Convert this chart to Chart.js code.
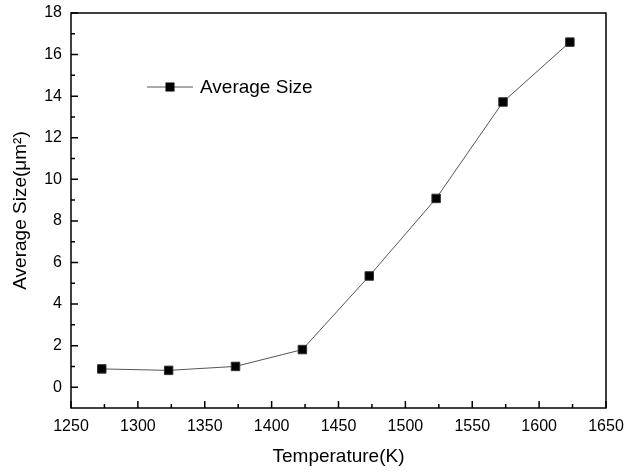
<!DOCTYPE html>
<html>
<head>
<meta charset="utf-8">
<script src="https://cdn.jsdelivr.net/npm/chart.js@4/dist/chart.umd.min.js"></script>
<style>
    html, body { margin: 0; padding: 0; background: #fff; }
    #wrap { width: 627px; height: 472px; }
</style>
</head>
<body>
<div id="wrap"><canvas id="sizeChart"></canvas></div>
<script>
// Data
const temperatures = [1273, 1323, 1373, 1423, 1473, 1523, 1573, 1623];
const averageSize = [0.88, 0.81, 1.0, 1.81, 5.35, 9.08, 13.72, 16.6];
const xTicks = [1250, 1300, 1350, 1400, 1450, 1500, 1550, 1600, 1650];
const yTicks = [0, 2, 4, 6, 8, 10, 12, 14, 16, 18];
const xMinorTicks = [1275, 1325, 1375, 1425, 1475, 1525, 1575, 1625];
const yMinorTicks = [1, 3, 5, 7, 9, 11, 13, 15, 17];

const FONT = '"Liberation Sans", Arial, sans-serif';

// frame, inward ticks and the legend box inside the plot
const framePlugin = {
    id: 'frame',
    afterDraw(chart) {
        const ctx = chart.ctx;
        const a = chart.chartArea;
        const xs = chart.scales.x;
        const ys = chart.scales.y;
        ctx.save();
        ctx.strokeStyle = '#000';
        ctx.lineWidth = 1.5;
        ctx.strokeRect(a.left, a.top, a.right - a.left, a.bottom - a.top);

        ctx.beginPath();
        xTicks.forEach(v => {
            const px = xs.getPixelForValue(v);
            ctx.moveTo(px, a.bottom);
            ctx.lineTo(px, a.bottom - 7);
        });
        xMinorTicks.forEach(v => {
            const px = xs.getPixelForValue(v);
            ctx.moveTo(px, a.bottom);
            ctx.lineTo(px, a.bottom - 4);
        });
        yTicks.forEach(v => {
            const py = ys.getPixelForValue(v);
            ctx.moveTo(a.left, py);
            ctx.lineTo(a.left + 7, py);
        });
        yMinorTicks.forEach(v => {
            const py = ys.getPixelForValue(v);
            ctx.moveTo(a.left, py);
            ctx.lineTo(a.left + 4, py);
        });
        ctx.stroke();

        // legend
        const ds = chart.data.datasets[0];
        const lx = 147, ly = 87;
        ctx.strokeStyle = ds.borderColor;
        ctx.lineWidth = 1;
        ctx.beginPath();
        ctx.moveTo(lx, ly);
        ctx.lineTo(lx + 46, ly);
        ctx.stroke();
        ctx.fillStyle = ds.pointBackgroundColor;
        ctx.fillRect(lx + 23 - 4.5, ly - 4.5, 9, 9);
        ctx.fillStyle = '#000';
        ctx.font = '19px ' + FONT;
        ctx.textBaseline = 'middle';
        ctx.fillText(ds.label, lx + 53, ly + 1);
        ctx.restore();
    }
};

new Chart(document.getElementById('sizeChart'), {
    type: 'line',
    data: {
        datasets: [{
            label: 'Average Size',
            data: temperatures.map((t, i) => ({ x: t, y: averageSize[i] })),
            borderColor: '#555',
            borderWidth: 1,
            pointStyle: 'rect',
            pointRadius: 6,
            pointBackgroundColor: '#000',
            pointBorderColor: '#333',
            pointBorderWidth: 1,
            tension: 0
        }]
    },
    options: {
        responsive: true,
        maintainAspectRatio: false,
        animation: false,
        layout: { padding: { top: 13, right: 21, left: 0, bottom: 0 } },
        plugins: {
            legend: { display: false },
            tooltip: { enabled: false }
        },
        scales: {
            x: {
                type: 'linear',
                min: 1250,
                max: 1650,
                afterBuildTicks: s => { s.ticks = xTicks.map(v => ({ value: v })); },
                afterFit: s => { s.height = 64; s.paddingLeft = 0; s.paddingRight = 0; },
                grid: { display: false, drawTicks: false },
                border: { display: false },
                ticks: {
                    color: '#000',
                    font: { family: FONT, size: 16 },
                    padding: 9,
                    maxRotation: 0,
                    callback: v => String(v)
                },
                title: {
                    display: true,
                    text: 'Temperature(K)',
                    color: '#000',
                    font: { family: FONT, size: 19 },
                    padding: { top: 0, bottom: 4 }
                }
            },
            y: {
                type: 'linear',
                min: -1,
                max: 18,
                afterBuildTicks: s => { s.ticks = yTicks.map(v => ({ value: v })); },
                afterFit: s => { s.width = 71; s.paddingTop = 0; s.paddingBottom = 0; },
                grid: { display: false, drawTicks: false },
                border: { display: false },
                ticks: {
                    color: '#000',
                    font: { family: FONT, size: 16 },
                    padding: 9,
                    callback: v => String(v)
                },
                title: {
                    display: true,
                    text: 'Average Size(μm²)',
                    color: '#000',
                    font: { family: FONT, size: 19 },
                    padding: { top: 9, bottom: 0 }
                }
            }
        }
    },
    plugins: [framePlugin]
});
</script>
</body>
</html>
